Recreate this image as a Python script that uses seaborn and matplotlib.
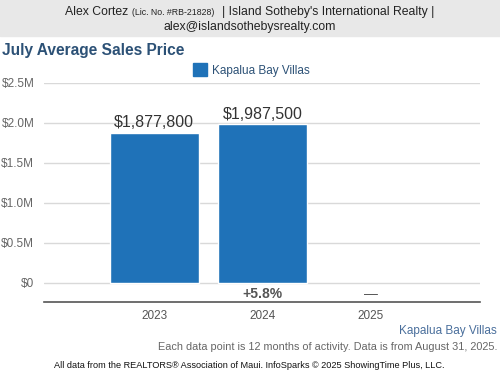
import pandas as pd
import numpy as np
import matplotlib
matplotlib.use("Agg")
import matplotlib.pyplot as plt
import seaborn as sns
from matplotlib.patches import Rectangle, Patch

# Datos
years = ["2023", "2024", "2025"]
prices = [1877800, 1987500, np.nan]
area = "Kapalua Bay Villas"
change_labels = ["", "+5.8%", "—"]
ytick_vals = [0, 500000, 1000000, 1500000, 2000000, 2500000]
ytick_labels = ["$0", "$0.5M", "$1.0M", "$1.5M", "$2.0M", "$2.5M"]

df = pd.DataFrame({"anio": years, "precio": prices, "area": area})

sns.set_theme(style="white")
plt.rcParams["font.family"] = ["Liberation Sans", "DejaVu Sans"]

W, H = 500, 375
fig = plt.figure(figsize=(5, 3.75), dpi=100)

def fx(px):
    return px / W

def fy(py):
    return 1 - py / H

# Encabezado gris
fig.patches.append(Rectangle((0, fy(36)), 1, 36 / H, transform=fig.transFigure,
                             color="#e8e8e8", zorder=0))
fig.text(fx(128), fy(12), "Alex Cortez", ha="right", va="center", fontsize=8.8, color="#222222")
fig.text(fx(132), fy(12.5), "(Lic. No. #RB-21828)", ha="left", va="center", fontsize=6.3, color="#222222")
fig.text(fx(222), fy(12), "| Island Sotheby's International Realty |", ha="left", va="center",
         fontsize=8.8, color="#222222")
fig.text(0.5, fy(27), "alex@islandsothebysrealty.com", ha="center", va="center",
         fontsize=8.8, color="#222222")

# Título
fig.text(fx(2), fy(50), "July Average Sales Price", ha="left", va="center",
         fontsize=11.2, fontweight="bold", color="#2c5176")

ax = fig.add_axes([fx(44), fy(302), fx(480) - fx(44), (302 - 83) / H])
bar_color = "#1f72b8"
sns.barplot(data=df, x="anio", y="precio", hue="area", order=years,
            palette=[bar_color], width=0.82, ax=ax, legend=False, saturation=1)

ax.set_xlim(-1.02, 3.01)
ax.set_ylim(-237500, 2500000)
ax.set_yticks(ytick_vals)
ax.set_yticklabels(ytick_labels)
ax.set_xlabel("")
ax.set_ylabel("")
ax.grid(axis="y", color="#d9d9d9", linewidth=1)
ax.set_axisbelow(True)
for s in ["top", "right", "left"]:
    ax.spines[s].set_visible(False)
ax.spines["bottom"].set_color("#555555")
ax.spines["bottom"].set_linewidth(1.2)
ax.tick_params(axis="y", length=0, pad=7, labelsize=8.5, labelcolor="#666666")
ax.tick_params(axis="x", length=0, pad=6, labelsize=8.5, labelcolor="#555555")

# Etiquetas de valor
for i, p in enumerate(prices):
    if not np.isnan(p):
        ax.text(i, p + 30000, f"${p:,.0f}", ha="center", va="bottom",
                fontsize=11.5, color="#333333")

# Cambios porcentuales
for i, c in enumerate(change_labels):
    if c:
        ax.text(i, -137500, c, ha="center", va="center", fontsize=10,
                fontweight="bold" if c != "—" else "normal", color="#555555")

# Leyenda
handle = Patch(facecolor=bar_color, edgecolor=bar_color)
fig.legend([handle], [area], loc="center", bbox_to_anchor=(fx(251), fy(70)),
           frameon=False, fontsize=8.5, labelcolor="#2c5176",
           handlelength=1.2, handleheight=1.2, handletextpad=0.4)

# Pie
fig.text(fx(497), fy(331), "Kapalua Bay Villas", ha="right", va="center",
         fontsize=8.5, color="#4a6f9c")
fig.text(fx(497), fy(347),
         "Each data point is 12 months of activity. Data is from August 31, 2025.",
         ha="right", va="center", fontsize=7.8, color="#666666")
fig.text(fx(249), fy(366),
         "All data from the REALTORS® Association of Maui. InfoSparks © 2025 ShowingTime Plus, LLC.",
         ha="center", va="center", fontsize=6.6, color="#111111")

fig.savefig("out.png", dpi=100)
